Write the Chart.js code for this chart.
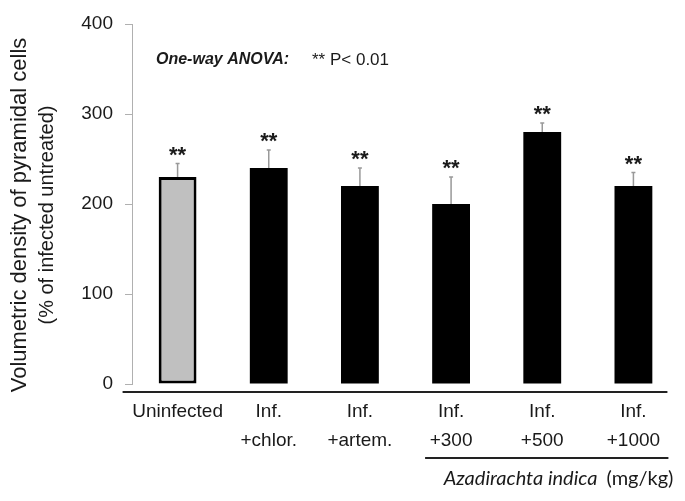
<!DOCTYPE html>
<html>
<head>
<meta charset="utf-8">
<script src="https://cdn.jsdelivr.net/npm/chart.js@4.4.0/dist/chart.umd.min.js"></script>
<style>
  html, body { margin: 0; padding: 0; background: #fff; }
  #wrap { width: 685px; height: 501px; }
</style>
</head>
<body>
<div id="wrap"><canvas id="myChart"></canvas></div>
<script>
// data
var labels = [['Uninfected'], ['Inf.', '+chlor.'], ['Inf.', '+artem.'], ['Inf.', '+300'], ['Inf.', '+500'], ['Inf.', '+1000']];
var values = [230, 240, 220, 200, 280, 220];
var errors = [15, 20, 20, 30, 10, 15];
var stars = ['**', '**', '**', '**', '**', '**'];
var yTicks = [0, 100, 200, 300, 400];
var barFill = ['#c0c0c0', '#000000', '#000000', '#000000', '#000000', '#000000'];
var barBorder = [3, 0, 0, 0, 0, 0];

var FONT = "'Liberation Sans', Arial, sans-serif";
var TXT = '#1a1a1a';

// error bars, stars, lines and extra text
var extras = {
  id: 'extras',
  afterDraw: function (chart) {
    var ctx = chart.ctx;
    var y = chart.scales.y;
    var meta = chart.getDatasetMeta(0);
    var area = chart.chartArea;
    var first = meta.data[0].x, last = meta.data[meta.data.length - 1].x;
    ctx.save();

    // error bars (upper only)
    for (var i = 0; i < values.length; i++) {
      var cx = meta.data[i].x;
      var yb = y.getPixelForValue(values[i]);
      var yt = y.getPixelForValue(values[i] + errors[i]);
      ctx.strokeStyle = '#999';
      ctx.lineWidth = 1.5;
      ctx.beginPath();
      ctx.moveTo(cx, yb);
      ctx.lineTo(cx, yt);
      ctx.moveTo(cx - 2, yt);
      ctx.lineTo(cx + 2, yt);
      ctx.stroke();

      ctx.fillStyle = TXT;
      ctx.font = 'bold 22px ' + FONT;
      ctx.textAlign = 'center';
      ctx.textBaseline = 'alphabetic';
      ctx.fillText(stars[i], cx, yt - 2);
    }

    // separator line under the bars
    ctx.strokeStyle = '#222';
    ctx.lineWidth = 2;
    ctx.beginPath();
    ctx.moveTo(first - 55, area.bottom + 8);
    ctx.lineTo(last + 34, area.bottom + 8);
    ctx.stroke();

    // bracket line for the neem doses
    ctx.beginPath();
    ctx.moveTo(meta.data[3].x - 26, area.bottom + 74);
    ctx.lineTo(last + 35, area.bottom + 74);
    ctx.stroke();

    ctx.fillStyle = TXT;
    ctx.textBaseline = 'middle';
    ctx.textAlign = 'right';
    ctx.font = "20px Lato, 'Open Sans', sans-serif";
    var rx = last + 40;
    ctx.fillText('(mg/kg)', rx, area.bottom + 95);
    var w = ctx.measureText('(mg/kg)').width;
    ctx.font = "italic 20px Lato, 'Open Sans', sans-serif";
    ctx.fillText('Azadirachta indica', rx - w - 9, area.bottom + 95);

    // ANOVA note
    var ax = area.left + 24, ay = y.getPixelForValue(360);
    ctx.textAlign = 'left';
    ctx.font = 'italic bold 16px ' + FONT;
    ctx.fillText('One-way ANOVA:', ax, ay);
    ctx.font = '17px ' + FONT;
    ctx.fillText('** P< 0.01', ax + 156, ay);

    // y title, two lines
    var cy = (area.top + area.bottom) / 2 + 11;
    ctx.translate(26, cy);
    ctx.rotate(-Math.PI / 2);
    ctx.textAlign = 'center';
    ctx.textBaseline = 'alphabetic';
    ctx.font = '22px ' + FONT;
    ctx.fillText('Volumetric density of pyramidal cells', 0, 0);
    ctx.font = '20px ' + FONT;
    ctx.fillText('(% of infected untreated)', 0, 27);
    ctx.restore();
  }
};

var ctx = document.getElementById('myChart').getContext('2d');
var myChart = new Chart(ctx, {
  type: 'bar',
  data: {
    labels: labels,
    datasets: [{
      data: values,
      backgroundColor: barFill,
      borderColor: '#000',
      borderWidth: barBorder,
      borderSkipped: false,
      barPercentage: 0.415,
      categoryPercentage: 1
    }]
  },
  options: {
    responsive: true,
    maintainAspectRatio: false,
    animation: false,
    layout: { padding: { top: 24, right: 6, left: 0, bottom: 0 } },
    plugins: {
      legend: { display: false },
      tooltip: { enabled: false }
    },
    scales: {
      x: {
        grid: { display: false, drawTicks: false },
        border: { display: false },
        ticks: { color: TXT, padding: 13, autoSkip: false, maxRotation: 0, font: { family: FONT, size: 19, lineHeight: 1.53 } },
        afterFit: function (s) { s.height = 117; }
      },
      y: {
        min: 0,
        max: 400,
        afterBuildTicks: function (s) { s.ticks = yTicks.map(function (v) { return { value: v }; }); },
        grid: { drawOnChartArea: false, color: '#b0b0b0', tickLength: 7, lineWidth: 1 },
        border: { color: '#b0b0b0', width: 1 },
        ticks: { color: TXT, padding: 12, font: { family: FONT, size: 19 } },
        afterFit: function (s) { s.width = 132; }
      }
    }
  },
  plugins: [extras]
});
</script>
</body>
</html>
